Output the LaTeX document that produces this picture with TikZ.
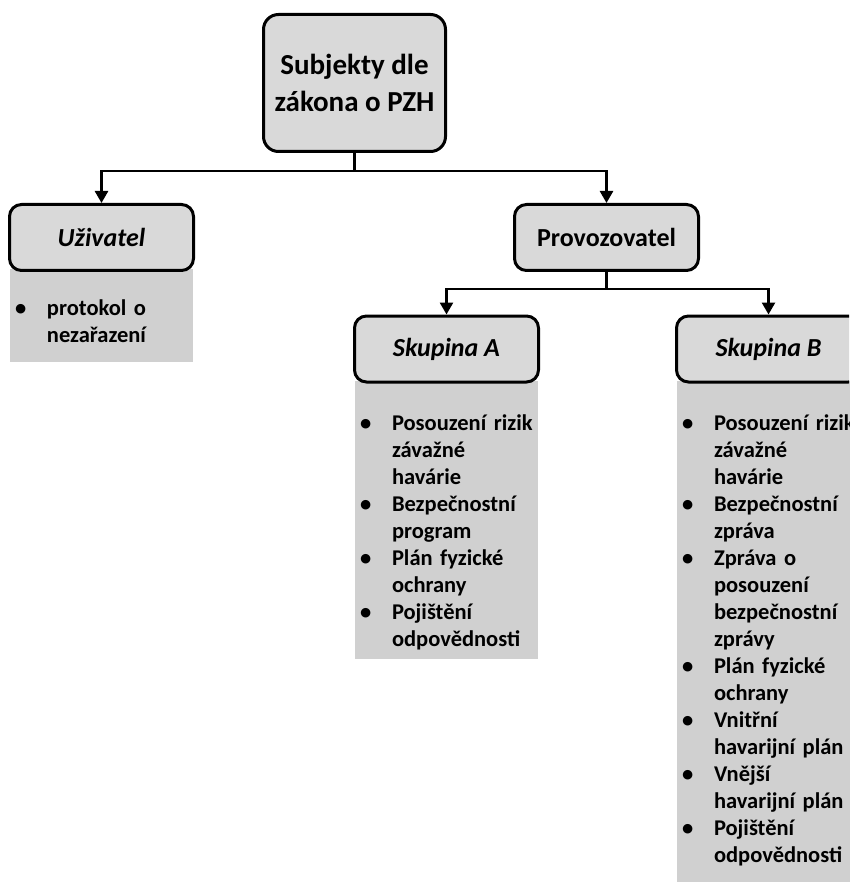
\documentclass[tikz,border=0pt]{standalone}
\usepackage{fontspec}
\setmainfont{Carlito}
\usepackage{tikz}
\usetikzlibrary{arrows.meta,positioning,calc,backgrounds}
\definecolor{Ink}{HTML}{000000}
\definecolor{BoxGrey}{HTML}{D9D9D9}
\definecolor{ListGrey}{HTML}{D0D0D0}
\newcommand{\bod}[1]{\par\noindent\hangindent=32pt\hangafter=1\makebox[32pt][l]{\textbullet}#1\par}
\tikzset{
  orgbox/.style={draw=Ink,line width=3pt,rounded corners=12pt,fill=BoxGrey,align=center,inner sep=0pt,minimum width=184pt,minimum height=66pt,font=\fontsize{26}{30}\selectfont\bfseries,text=Ink},
  rootbox/.style={orgbox,rounded corners=15pt,minimum width=182pt,minimum height=137pt,font=\fontsize{29}{37}\selectfont\bfseries},
  listbg/.style={fill=ListGrey,draw=none,inner sep=0pt,minimum width=183pt,anchor=north},
  listtext/.style={anchor=north west,inner sep=0pt,text width=200pt,align=left,font=\fontsize{22.5}{27}\selectfont\bfseries,text=Ink},
  arrow/.style={-{Triangle[length=12pt,width=13pt]},line width=2.6pt,draw=Ink},
  link/.style={line width=2.6pt,draw=Ink}
}

\begin{document}
\begin{tikzpicture}[x=1pt,y=-1pt]
\useasboundingbox (0,0) rectangle (849,882);
\clip (0,0) rectangle (849,882);
% boxes
\node[rootbox] (root) at (354.5,83) {Subjekty dle\\zákona o PZH};
\node[orgbox,font=\fontsize{26}{30}\selectfont\bfseries\itshape] (uz) at (101.5,237.5) {Uživatel};
\node[orgbox] (prov) at (606.5,237.5) {Provozovatel};
\node[orgbox,font=\fontsize{26}{30}\selectfont\bfseries\itshape] (skA) at (446.5,349) {Skupina A};
\node[orgbox,font=\fontsize{26}{30}\selectfont\bfseries\itshape] (skB) at (768.5,349) {Skupina B};
% grey lists
\begin{scope}[on background layer]
\node[listbg,minimum height=93pt] (uzL) at ([yshift=3pt]uz.south) {};
\node[listbg,minimum height=278pt] (aL) at ([yshift=3pt]skA.south) {};
\node[listbg,minimum height=520pt] (bL) at ([yshift=3pt]skB.south) {};
\end{scope}
\node[listtext] (uzT) at ($(uzL.north west)+(5,19)$) {\bod{protokol o\newline nezařazení}};
\node[listtext] (aT) at ($(aL.north west)+(5,23)$) {\bod{Posouzení rizik\newline závažné\newline havárie}\bod{Bezpečnostní\newline program}\bod{Plán fyzické\newline ochrany}\bod{Pojištění\newline odpovědnosti}};
\node[listtext] (bT) at ($(bL.north west)+(5,23)$) {\bod{Posouzení rizik\newline závažné\newline havárie}\bod{Bezpečnostní\newline zpráva}\bod{Zpráva o\newline posouzení\newline bezpečnostní\newline zprávy}\bod{Plán fyzické\newline ochrany}\bod{Vnitřní\newline havarijní plán}\bod{Vnější\newline havarijní plán}\bod{Pojištění\newline odpovědnosti}};
% connectors
\coordinate (j1) at ($(root.south)+(0,18)$);
\coordinate (j2) at ($(prov.south)+(0,17)$);
\draw[link] (root.south) -- (j1);
\draw[arrow] (j1) -| (uz.north);
\draw[arrow] (j1) -| (prov.north);
\draw[link] (prov.south) -- (j2);
\draw[arrow] (j2) -| (skA.north);
\draw[arrow] (j2) -| (skB.north);
\end{tikzpicture}
\end{document}
